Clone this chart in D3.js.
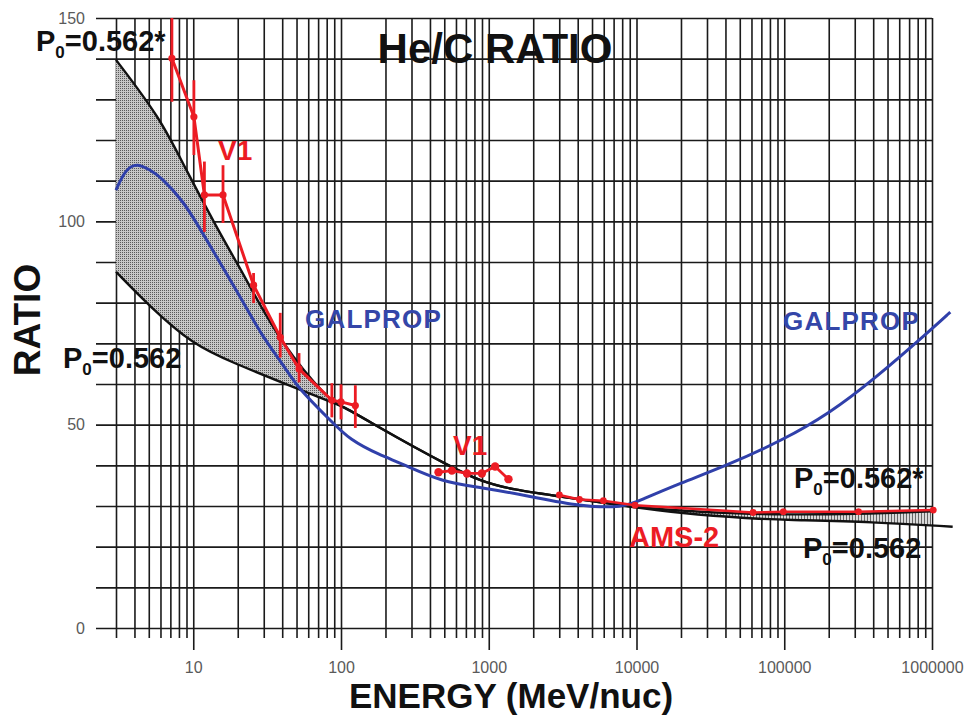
<!DOCTYPE html>
<html>
<head>
<meta charset="utf-8">
<script src="https://cdn.jsdelivr.net/npm/d3@7"></script>
<style>
  html, body { margin: 0; padding: 0; background: #fff; }
  svg { display: block; }
  text { font-family: "Liberation Sans", Arial, sans-serif; }
</style>
</head>
<body>
<svg id="chart" width="967" height="716"></svg>
<script>
// ---------------- DATA ----------------
const yTickLabels = [0, 50, 100, 150];
const xTickLabels = [10, 100, 1000, 10000, 100000, 1000000];

// Black model curves (P0=0.562* upper, P0=0.562 lower)
const blackUpperE = [3, 6, 8.6, 14.5, 19.8, 24.3, 38.8, 84.5, 100, 184, 309, 520, 870, 1460, 3000, 8160, 20000, 50000, 100000, 300000, 1000000];
const blackUpperR = [139.7, 125.3, 113.8, 98.3, 89.7, 83.9, 70.3, 55.6, 54.8, 49.2, 44.6, 40.2, 36.1, 34.0, 32.4, 30.0, 28.8, 28.1, 27.9, 28.0, 28.7];
const blackLowerE = [3, 5.1, 10, 18.7, 40.8, 89, 100, 184, 309, 520, 870, 1460, 3000, 8160, 20000, 60000, 100000, 400000, 1380000];
const blackLowerR = [87.6, 79.0, 69.6, 65.2, 60.2, 55.3, 54.8, 49.2, 44.6, 40.2, 36.1, 34.0, 32.4, 30.0, 28.2, 26.9, 26.6, 26.1, 24.9];

// GALPROP (blue)
const galpropE = [3, 3.5, 4.2, 5.1, 6, 8.6, 11.7, 17.8, 20.8, 29.9, 40.6, 50.3, 84.5, 115, 184, 252, 490, 880, 1900, 4130, 8160, 10570, 19700, 41000, 98000, 204000, 400000, 980000, 1330000];
const galpropR = [107.7, 113.0, 114.3, 112.6, 111.0, 105.0, 96.8, 85.6, 81.4, 71.2, 64.8, 59.3, 51.1, 46.2, 42.5, 40.6, 35.8, 34.6, 32.4, 29.9, 29.6, 31.4, 35.6, 40.0, 46.2, 52.9, 61.0, 73.3, 77.7];

// V1 low energy data with error bars (red)
const v1LowE  = [7.17, 10.1, 11.9, 15.9, 25.6, 38.8, 52, 86.7, 100, 125];
const v1LowR  = [140.1, 125.7, 106.5, 106.5, 84.3, 71.5, 63.7, 56.0, 55.6, 54.7];
const v1LowLo = [129.4, 116.3, 97.4, 99.6, 79.9, 66.5, 60.4, 51.8, 51.3, 49.2];
const v1LowHi = [150.0, 134.7, 114.7, 113.8, 87.3, 77.5, 67.6, 60.2, 59.9, 59.7];

// V1 high energy data (red)
const v1HighE = [457, 563, 712, 898, 1104, 1360];
const v1HighR = [38.3, 38.7, 38.0, 38.0, 39.7, 36.6];

// AMS-2 data (red)
const amsE = [3006, 4110, 5970, 9770, 61500, 98600, 318000, 1020000];
const amsR = [32.7, 31.6, 31.3, 30.2, 28.4, 28.6, 28.6, 29.0];

// ---------------- CHART ----------------
const svg = d3.select("#chart");
const RED = "#ec1c24", BLUE = "#3040aa", GRID = "#1a1a1a", GRAY = "#5a5a5a";

const x = d3.scaleLog().domain([3, 1e6]).range([116, 932]);
const y = d3.scaleLinear().domain([0, 150]).range([628, 18]);

// patterns
const defs = svg.append("defs");
const p1 = defs.append("pattern").attr("id", "stipple").attr("patternUnits", "userSpaceOnUse")
  .attr("width", 2).attr("height", 2);
p1.append("rect").attr("width", 2).attr("height", 2).attr("fill", "#c6c6c6");
p1.append("rect").attr("x", 0).attr("y", 0).attr("width", 1).attr("height", 1).attr("fill", "#585858");
const p2 = defs.append("pattern").attr("id", "vhatch").attr("patternUnits", "userSpaceOnUse")
  .attr("width", 3).attr("height", 3);
p2.append("rect").attr("width", 3).attr("height", 3).attr("fill", "#dadada");
p2.append("rect").attr("x", 0).attr("y", 0).attr("width", 1).attr("height", 3).attr("fill", "#666");

// ---- grid: horizontal lines ----
const yAxis = d3.axisLeft(y)
  .tickValues(d3.range(0, 151, 10))
  .tickSize(-(932 - 96))
  .tickPadding(11)
  .tickFormat(d => yTickLabels.includes(d) ? d : "");
const gy = svg.append("g").attr("transform", "translate(96,0)").call(yAxis);
gy.select(".domain").remove();
gy.selectAll(".tick line").attr("stroke", GRID).attr("stroke-width", 1.6);
gy.selectAll(".tick text").attr("fill", GRAY).style("font-size", "16px");

// ---- grid: vertical lines ----
const allTicks = [];
for (let k = 0; k <= 6; k++) {
  for (let m = 1; m <= 9; m++) {
    const v = m * Math.pow(10, k);
    if (v >= 3 && v <= 1e6) allTicks.push(v);
  }
}
const minorTicks = allTicks.filter(v => !xTickLabels.includes(v));

const gxGrid = svg.append("g").attr("transform", "translate(0,628)")
  .call(d3.axisBottom(x).tickValues(allTicks).tickSize(-610).tickFormat(""));
gxGrid.select(".domain").remove();
gxGrid.selectAll(".tick line").attr("stroke", GRID).attr("stroke-width", 1.6);

const gxMinor = svg.append("g").attr("transform", "translate(0,628)")
  .call(d3.axisBottom(x).tickValues(minorTicks).tickSize(10).tickFormat(""));
gxMinor.select(".domain").remove();
gxMinor.selectAll(".tick line").attr("stroke", GRID).attr("stroke-width", 1.6);

const gxMajor = svg.append("g").attr("transform", "translate(0,628)")
  .call(d3.axisBottom(x).tickValues(xTickLabels).tickSize(22).tickPadding(12).tickFormat(d3.format("d")));
gxMajor.select(".domain").remove();
gxMajor.selectAll(".tick line").attr("stroke", GRID).attr("stroke-width", 1.6);
gxMajor.selectAll(".tick text").attr("fill", GRAY).style("font-size", "16px");

// ---- helpers ----
const zip = (E, R) => E.map((e, i) => [e, R[i]]);
const up = zip(blackUpperE, blackUpperR);
const lo = zip(blackLowerE, blackLowerR);
function interpLog(pts, e) {
  for (let i = 0; i < pts.length - 1; i++) {
    const [e0, r0] = pts[i], [e1, r1] = pts[i + 1];
    if (e >= e0 && e <= e1) {
      const t = (Math.log10(e) - Math.log10(e0)) / (Math.log10(e1) - Math.log10(e0));
      return r0 + t * (r1 - r0);
    }
  }
  return pts[pts.length - 1][1];
}
const lineSmooth = d3.line().x(d => x(d[0])).y(d => y(d[1])).curve(d3.curveBasis);
const lineStraight = d3.line().x(d => x(d[0])).y(d => y(d[1]));

// ---- shaded bands ----
const lowUp = up.filter(d => d[0] <= 100);
const lowLo = lo.filter(d => d[0] <= 100).reverse();
svg.append("path")
  .attr("d", lineSmooth(lowUp) + "L" + lineSmooth(lowLo).slice(1) + "Z")
  .attr("fill", "url(#stipple)").attr("stroke", "none");

const hiUp = up.filter(d => d[0] >= 8160);
const hiLo = lo.filter(d => d[0] >= 8160 && d[0] <= 1e6);
hiLo.push([1e6, interpLog(lo, 1e6)]);
svg.append("path")
  .attr("d", lineSmooth(hiUp) + "L" + lineSmooth(hiLo.reverse()).slice(1) + "Z")
  .attr("fill", "url(#vhatch)").attr("stroke", "none");

// ---- black curves ----
svg.append("path").attr("d", lineSmooth(up)).attr("fill", "none").attr("stroke", "#111").attr("stroke-width", 2.4);
svg.append("path").attr("d", lineSmooth(lo)).attr("fill", "none").attr("stroke", "#111").attr("stroke-width", 2.4);

// ---- GALPROP ----
svg.append("path").attr("d", lineSmooth(zip(galpropE, galpropR)))
  .attr("fill", "none").attr("stroke", BLUE).attr("stroke-width", 3);

// ---- V1 low energy ----
const v1Low = v1LowE.map((e, i) => ({ e, r: v1LowR[i], lo: v1LowLo[i], hi: v1LowHi[i] }));
svg.append("path").attr("d", lineStraight(v1Low.map(d => [d.e, d.r])))
  .attr("fill", "none").attr("stroke", RED).attr("stroke-width", 3);
svg.append("g").selectAll("line").data(v1Low).join("line")
  .attr("x1", d => x(d.e)).attr("x2", d => x(d.e))
  .attr("y1", d => y(d.lo)).attr("y2", d => y(d.hi))
  .attr("stroke", RED).attr("stroke-width", 2.8);
svg.append("g").selectAll("circle").data(v1Low).join("circle")
  .attr("cx", d => x(d.e)).attr("cy", d => y(d.r)).attr("r", 3.6).attr("fill", RED);

// ---- V1 high energy ----
const v1High = zip(v1HighE, v1HighR);
svg.append("path").attr("d", lineStraight(v1High))
  .attr("fill", "none").attr("stroke", RED).attr("stroke-width", 2.8);
svg.append("g").selectAll("circle").data(v1High).join("circle")
  .attr("cx", d => x(d[0])).attr("cy", d => y(d[1])).attr("r", 4.2).attr("fill", RED);

// ---- AMS-2 ----
const ams = zip(amsE, amsR);
svg.append("path").attr("d", lineStraight(ams))
  .attr("fill", "none").attr("stroke", RED).attr("stroke-width", 2.6);
svg.append("g").selectAll("circle").data(ams).join("circle")
  .attr("cx", d => x(d[0])).attr("cy", d => y(d[1])).attr("r", 3.4).attr("fill", RED);

// ---- texts ----
function pLabel(px, py, star) {
  const t = svg.append("text").attr("x", px).attr("y", py)
    .attr("fill", "#111").style("font-size", "29px").style("font-weight", "bold");
  t.append("tspan").text("P");
  t.append("tspan").attr("dy", 7).style("font-size", "17px").text("0");
  t.append("tspan").attr("dy", -7).text("=0.562" + (star ? "*" : ""));
}
pLabel(36, 51, true);
pLabel(63, 368, false);
pLabel(794, 488, true);
pLabel(803, 558, false);

svg.append("text").attr("x", 495).attr("y", 63).attr("text-anchor", "middle")
  .attr("fill", "#111").style("font-size", "42px").style("font-weight", "bold").text("He/C RATIO");

svg.append("text").attr("transform", "translate(40,320) rotate(-90)").attr("text-anchor", "middle")
  .attr("fill", "#111").style("font-size", "37px").style("font-weight", "bold").text("RATIO");

svg.append("text").attr("x", 511).attr("y", 708).attr("text-anchor", "middle")
  .attr("fill", "#111").style("font-size", "35px").style("font-weight", "bold").text("ENERGY (MeV/nuc)");

[[305, 328], [783, 330]].forEach(([gx, gyy]) => {
  svg.append("text").attr("x", gx).attr("y", gyy).attr("fill", "#3446a8")
    .style("font-size", "26px").style("font-weight", "bold").style("letter-spacing", "1.2px").text("GALPROP");
});

svg.append("text").attr("x", 218).attr("y", 160).attr("fill", RED)
  .style("font-size", "28px").style("font-weight", "bold").text("V1");
svg.append("text").attr("x", 453).attr("y", 455).attr("fill", RED)
  .style("font-size", "28px").style("font-weight", "bold").text("V1");
svg.append("text").attr("x", 629).attr("y", 547).attr("fill", RED)
  .style("font-size", "29px").style("font-weight", "bold").text("AMS-2");
</script>
</body>
</html>
